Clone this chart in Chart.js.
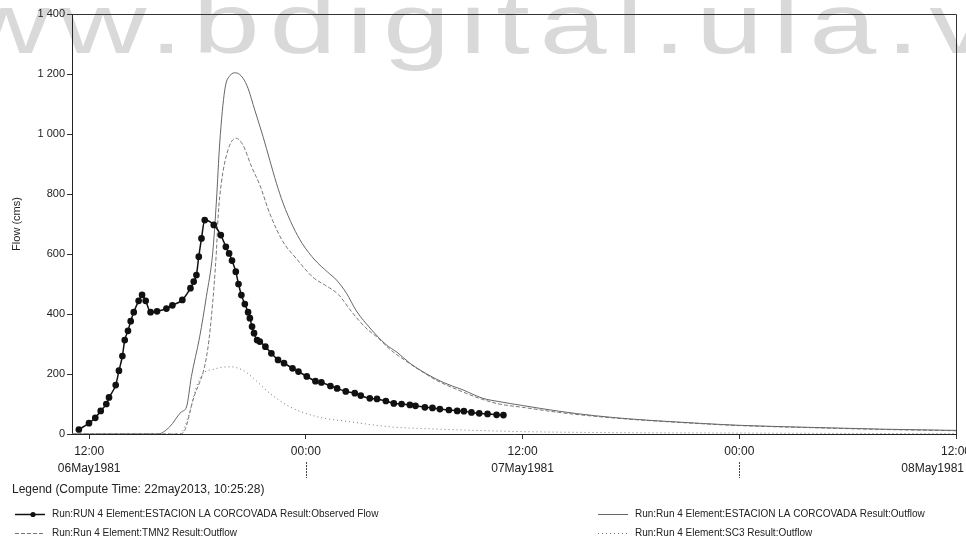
<!DOCTYPE html>
<html>
<head>
<meta charset="utf-8">
<title>Flow - Run 4</title>
<script src="https://cdn.jsdelivr.net/npm/chart.js@4.4.1/dist/chart.umd.min.js"></script>
<style>
    html, body { margin: 0; padding: 0; background: #fff; }
    #wrap { width: 966px; height: 545px; position: relative; }
</style>
</head>
<body>
<div id="wrap"><canvas id="flowChart"></canvas></div>
<script>
// hours counted from 00:00 06May1981
const tickHours = [12, 24, 36, 48, 60];
const tickDates = ['06May1981', '07May1981', '08May1981'];

// observed flow at ESTACION LA CORCOVADA
const obsHours = [11.43, 11.99, 12.34, 12.64, 12.95, 13.10, 13.47, 13.65, 13.84, 13.97, 14.15, 14.30, 14.47, 14.74, 14.93,
    15.13, 15.40, 15.76, 16.28, 16.61, 17.16, 17.61, 17.79, 17.94, 18.07, 18.22, 18.40, 18.90, 19.29, 19.57, 19.75,
    19.91, 20.12, 20.27, 20.43, 20.62, 20.80, 20.90, 21.02, 21.13, 21.30, 21.45, 21.76, 22.09, 22.46, 22.79, 23.26,
    23.59, 24.05, 24.53, 24.86, 25.36, 25.73, 26.21, 26.71, 27.04, 27.54, 27.94, 28.43, 28.87, 29.30, 29.76, 30.07,
    30.59, 31.01, 31.42, 31.92, 32.38, 32.75, 33.17, 33.60, 34.06, 34.56, 34.94];
const obsFlow = [15, 36, 54, 77, 100, 122, 163, 211, 260, 313, 344, 376, 406, 444, 464,
    444, 406, 409, 418, 429, 447, 486, 508, 530, 591, 652, 713, 697, 663, 624, 602,
    578, 541, 500, 463, 433, 406, 386, 358, 336, 313, 308, 291, 269, 247, 236, 219,
    208, 192, 176, 172, 160, 152, 142, 136, 128, 119, 117, 110, 102, 100, 97, 94,
    89, 87, 83, 80, 77, 76, 72, 69, 67, 64, 63];

// simulated outflow at ESTACION LA CORCOVADA
const outHours = [11.05, 15.8, 16.46, 17.11, 17.39, 17.66, 18.12, 18.49, 18.84, 19.05, 19.23, 19.51, 19.8, 20.12, 20.52,
    20.8, 21.17, 21.63, 22.0, 22.37, 22.74, 23.29, 23.8, 24.5, 25.2, 25.7, 26.25, 26.8, 27.6, 28.4, 29.1, 29.76,
    30.7, 31.6, 32.7, 33.8, 34.7, 36, 38, 40, 42, 44, 46, 48, 52, 56, 60];
const outFlow = [0, 0, 24, 74, 90, 191, 324, 458, 603, 780, 970, 1147, 1195, 1204, 1186,
    1152, 1080, 991, 913, 836, 769, 691, 635, 580, 540, 513, 469, 410, 350, 300, 270, 236,
    200, 172, 147, 119, 108, 95, 76, 61, 50, 42, 35, 29, 22, 16, 12];

// TMN2 outflow
const tmnHours = [11.05, 17.0, 17.3, 17.75, 18.5, 18.77, 19.05, 19.14, 19.32, 19.69, 20.12, 20.5, 21.0, 21.45, 22.0,
    22.74, 23.4, 24.4, 25.1, 25.8, 26.5, 27.3, 28.0, 28.7, 29.5, 30.3, 31.2, 32.7, 33.8, 34.7, 36, 38, 40, 42,
    44, 46, 48, 52, 56, 60];
const tmnFlow = [0, 0, 13, 113, 258, 391, 613, 724, 837, 947, 986, 965, 890, 830, 735,
    640, 590, 522, 495, 465, 410, 355, 320, 280, 245, 213, 180, 140, 115, 100, 89, 72, 59, 49,
    41, 34, 28, 21, 15, 11];

// SC3 outflow
const sc3Hours = [11.05, 17.0, 17.5, 17.9, 18.24, 18.9, 19.8, 20.5, 21.0, 22.0, 23.1, 24.59, 26.43, 28.65, 31.0,
    36, 40, 48, 60];
const sc3Flow = [0, 0, 60, 150, 197, 216, 224, 213, 191, 136, 91, 58, 41, 24, 17,
    8, 5, 3, 1];

const legendItems = [
    { text: 'Run:RUN 4 Element:ESTACION LA CORCOVADA Result:Observed Flow', dash: [], marker: true, width: 1.5, color: '#111' },
    { text: 'Run:Run 4 Element:ESTACION LA CORCOVADA Result:Outflow', dash: [], marker: false, width: 1, color: '#666' },
    { text: 'Run:Run 4 Element:TMN2 Result:Outflow', dash: [4, 2], marker: false, width: 1, color: '#777' },
    { text: 'Run:Run 4 Element:SC3 Result:Outflow', dash: [1, 3], marker: false, width: 1, color: '#777' }
];

const FONT = '"Liberation Sans", Arial, sans-serif';

function toPoints(xs, ys) {
    return xs.map((x, i) => ({ x: x, y: ys[i] }));
}

function fmtFlow(v) {
    return String(v).replace(/\B(?=(\d{3})+(?!\d))/g, ' ');
}

// faded site name behind the plot
const watermark = {
    id: 'watermark',
    beforeDraw(chart) {
        const ctx = chart.ctx;
        ctx.save();
        ctx.fillStyle = '#d9d9d9';
        ctx.font = '86px ' + FONT;
        ctx.textBaseline = 'alphabetic';
        ctx.translate(-134, 53);
        ctx.scale(1.4, 1);
        ctx.letterSpacing = '7px';
        ctx.fillText('www.bdigital.ula.ve', 0, 0);
        ctx.restore();
    }
};

// top/right frame, date line under the ticks, legend block
const extras = {
    id: 'extras',
    afterDraw(chart) {
        const ctx = chart.ctx;
        const a = chart.chartArea;
        const xs = chart.scales.x;
        ctx.save();

        ctx.strokeStyle = '#333';
        ctx.lineWidth = 1;
        ctx.beginPath();
        ctx.moveTo(a.left, a.top + 0.5);
        ctx.lineTo(a.right + 0.5, a.top + 0.5);
        ctx.lineTo(a.right + 0.5, a.bottom);
        ctx.stroke();

        ctx.fillStyle = '#222';
        ctx.font = '12px ' + FONT;
        ctx.textBaseline = 'middle';
        let d = 0;
        tickHours.forEach(h => {
            const px = xs.getPixelForValue(h);
            if (h % 24 === 12) {
                const label = tickDates[d++];
                const w = ctx.measureText(label).width;
                const left = Math.min(px - w / 2, chart.width - w - 2);
                ctx.textAlign = 'left';
                ctx.fillText(label, left, 469);
            } else {
                ctx.setLineDash([2, 1]);
                ctx.strokeStyle = '#444';
                ctx.beginPath();
                ctx.moveTo(Math.round(px) + 0.5, 462);
                ctx.lineTo(Math.round(px) + 0.5, 478);
                ctx.stroke();
                ctx.setLineDash([]);
            }
        });

        ctx.textAlign = 'left';
        ctx.fillText('Legend (Compute Time: 22may2013, 10:25:28)', 12, 490);

        ctx.font = '10px ' + FONT;
        const cols = [15, 598];
        const rows = [514, 533];
        legendItems.forEach((item, i) => {
            const lx = cols[i % 2];
            const ly = rows[Math.floor(i / 2)];
            ctx.strokeStyle = item.color;
            ctx.lineWidth = item.width;
            ctx.setLineDash(item.dash);
            ctx.beginPath();
            ctx.moveTo(lx, ly + 0.5);
            ctx.lineTo(lx + 30, ly + 0.5);
            ctx.stroke();
            ctx.setLineDash([]);
            if (item.marker) {
                ctx.fillStyle = '#111';
                ctx.beginPath();
                ctx.arc(lx + 18, ly + 0.5, 2.6, 0, Math.PI * 2);
                ctx.fill();
            }
            ctx.fillStyle = '#222';
            ctx.fillText(item.text, lx + 37, ly);
        });

        ctx.restore();
    }
};

const ctx = document.getElementById('flowChart').getContext('2d');
new Chart(ctx, {
    type: 'line',
    data: {
        datasets: [
            {
                label: 'Observed Flow',
                data: toPoints(obsHours, obsFlow),
                borderColor: '#111',
                backgroundColor: '#111',
                borderWidth: 1.5,
                pointRadius: 2.6,
                pointStyle: 'circle',
                cubicInterpolationMode: 'monotone',
                order: 0
            },
            {
                label: 'Outflow',
                data: toPoints(outHours, outFlow),
                borderColor: '#666',
                borderWidth: 1,
                pointRadius: 0,
                cubicInterpolationMode: 'monotone',
                order: 1
            },
            {
                label: 'TMN2',
                data: toPoints(tmnHours, tmnFlow),
                borderColor: '#777',
                borderWidth: 1,
                borderDash: [4, 2],
                pointRadius: 0,
                cubicInterpolationMode: 'monotone',
                order: 2
            },
            {
                label: 'SC3',
                data: toPoints(sc3Hours, sc3Flow),
                borderColor: '#777',
                borderWidth: 1,
                borderDash: [1, 3],
                pointRadius: 0,
                cubicInterpolationMode: 'monotone',
                order: 3
            }
        ]
    },
    options: {
        responsive: true,
        maintainAspectRatio: false,
        animation: false,
        layout: { padding: { left: 10, top: 14, right: 10, bottom: 71 } },
        plugins: {
            legend: { display: false },
            tooltip: { enabled: false }
        },
        scales: {
            x: {
                type: 'linear',
                min: 11.05,
                max: 60,
                afterBuildTicks: s => { s.ticks = tickHours.map(v => ({ value: v })); },
                afterFit: s => { s.height = 40; s.paddingLeft = 0; s.paddingRight = 0; },
                ticks: {
                    color: '#222',
                    font: { family: FONT, size: 12 },
                    padding: 5,
                    maxRotation: 0,
                    autoSkip: false,
                    callback: v => (v % 24 === 12 ? '12:00' : '00:00')
                },
                grid: { drawOnChartArea: false, drawTicks: true, tickLength: 5, color: '#333' },
                border: { display: true, color: '#222', width: 1 }
            },
            y: {
                min: 0,
                max: 1400,
                afterFit: s => { s.width = 62; },
                ticks: {
                    stepSize: 200,
                    color: '#222',
                    font: { family: FONT, size: 11 },
                    padding: 2,
                    callback: v => fmtFlow(v)
                },
                title: {
                    display: true,
                    text: 'Flow (cms)',
                    color: '#222',
                    font: { family: FONT, size: 11 },
                    padding: { top: 0, bottom: 0 }
                },
                grid: { drawOnChartArea: false, drawTicks: true, tickLength: 5, color: '#333' },
                border: { display: true, color: '#222', width: 1 }
            }
        }
    },
    plugins: [watermark, extras]
});
</script>
</body>
</html>
